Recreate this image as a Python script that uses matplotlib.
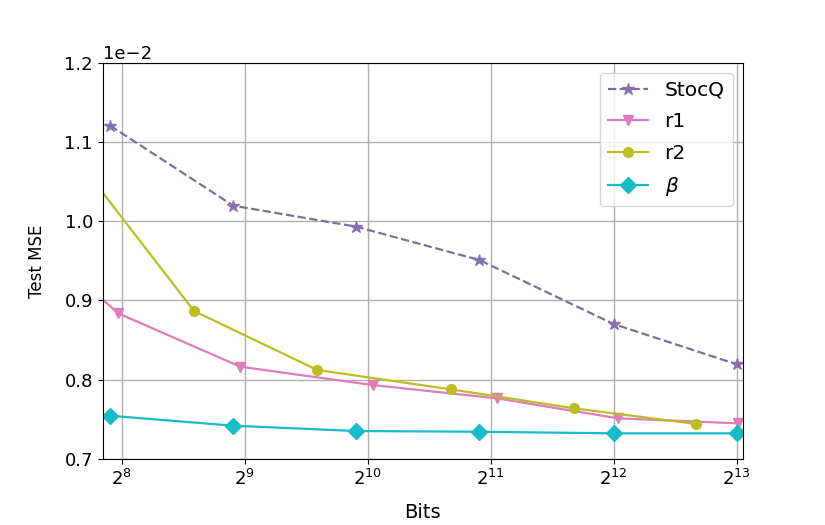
import matplotlib
matplotlib.use("Agg")
import matplotlib.pyplot as plt
import numpy as np

# data (Test MSE, scaled by 1e-2 in the axis offset)
x_stocq = [240, 480, 960, 1920, 4096, 8192]
y_stocq = [1.1205, 1.0196, 0.9931, 0.9511, 0.8703, 0.8195]

x_r1 = [126, 251, 500, 1054, 2118, 4202, 8266]
y_r1 = [1.022, 0.8838, 0.8164, 0.7933, 0.7766, 0.7513, 0.7450]

x_r2 = [193, 385, 771, 1635, 3275, 6510]
y_r2 = [1.087, 0.8867, 0.8123, 0.7879, 0.7640, 0.7442]

x_beta = [240, 480, 960, 1920, 4096, 8192]
y_beta = [0.7546, 0.7420, 0.7353, 0.7344, 0.7324, 0.7324]

labels = ["StocQ", "r1", "r2", r"$\beta$"]
xticks = [2**8, 2**9, 2**10, 2**11, 2**12, 2**13]
xticklabels = [r"$2^{8}$", r"$2^{9}$", r"$2^{10}$", r"$2^{11}$", r"$2^{12}$", r"$2^{13}$"]

scale = 1e-2
fig = plt.figure(figsize=(8.25, 5.25), dpi=100)
ax = fig.add_axes([0.1245, 0.1257, 0.9002 - 0.1245, 0.8806 - 0.1257])

ax.plot(x_stocq, np.array(y_stocq) * scale, linestyle="--", marker="*", color="#7d6e9c",
        markerfacecolor="#8a6fb0", markeredgecolor="#8a6fb0", markersize=9, lw=1.6, label=labels[0])
ax.plot(x_r1, np.array(y_r1) * scale, linestyle="-", marker="v", color="#e07bbd",
        markersize=7, lw=1.6, label=labels[1])
ax.plot(x_r2, np.array(y_r2) * scale, linestyle="-", marker="o", color="#bcbd22",
        markersize=7, lw=1.6, label=labels[2])
ax.plot(x_beta, np.array(y_beta) * scale, linestyle="-", marker="D", color="#17bcc8",
        markersize=8, lw=1.6, label=labels[3])

ax.set_xscale("log", base=2)
ax.set_xlim(2**7.846, 2**13.049)
ax.set_ylim(0.7e-2, 1.2e-2)
ax.set_xticks(xticks)
ax.set_xticklabels(xticklabels)
ax.minorticks_off()
ax.set_yticks(np.array([0.7, 0.8, 0.9, 1.0, 1.1, 1.2]) * scale)
ax.ticklabel_format(axis="y", style="sci", scilimits=(0, 0))
ax.yaxis.get_offset_text().set_fontsize(13)

ax.tick_params(axis="both", labelsize=13)
ax.set_xlabel("Bits", fontsize=14, labelpad=10)
ax.set_ylabel("Test MSE", fontsize=12, labelpad=13)
ax.grid(True, color="#b0b0b0", lw=1)
ax.legend(loc="upper right", fontsize=14.5, labelspacing=0.62)

fig.savefig("out.png", dpi=100)
